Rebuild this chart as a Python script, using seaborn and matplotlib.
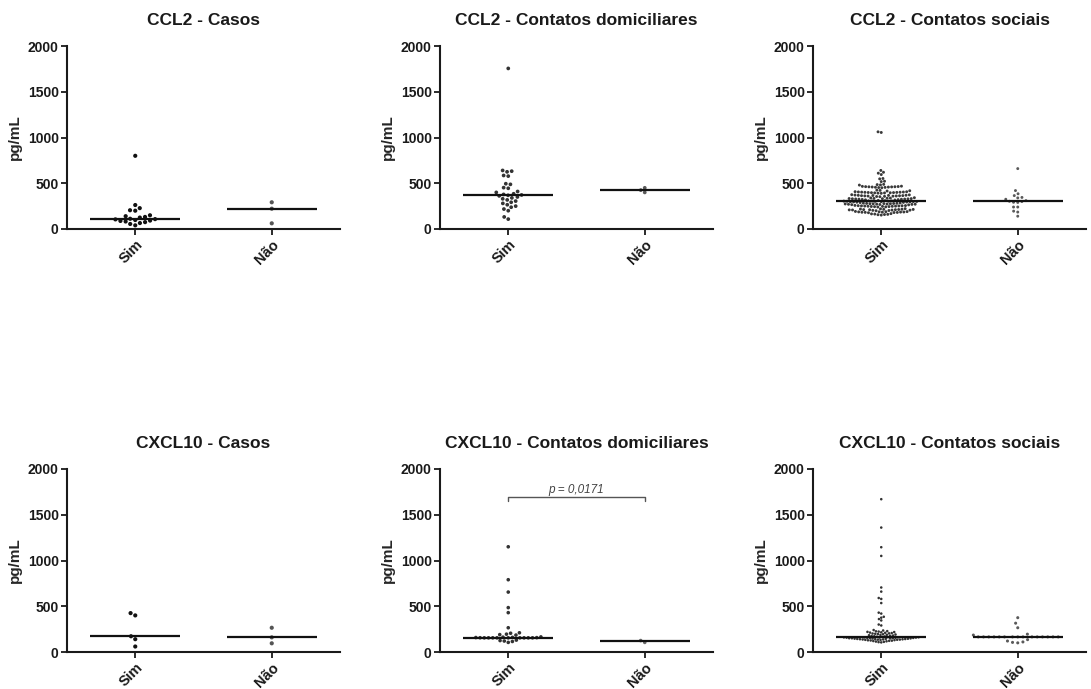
import matplotlib
matplotlib.use("Agg")
import matplotlib.pyplot as plt
import numpy as np
import pandas as pd
import seaborn as sns

# ---------------- data ----------------
groups = ["Sim", "Não"]
yticks = [0, 500, 1000, 1500, 2000]
titles = ["CCL2 - Casos", "CCL2 - Contatos domiciliares", "CCL2 - Contatos sociais",
          "CXCL10 - Casos", "CXCL10 - Contatos domiciliares", "CXCL10 - Contatos sociais"]

ccl2_casos_sim = [800, 262, 228, 205, 200, 150, 140, 132, 125, 112, 108, 105, 98, 92, 88,
                  82, 75, 65, 55, 40]
ccl2_casos_nao = [292, 222, 62]

ccl2_dom_sim = [1755, 640, 632, 625, 585, 578, 495, 488, 452, 445, 410, 400, 385, 378, 372,
                368, 362, 350, 340, 330, 318, 305, 292, 280, 265, 250, 238, 218, 200, 132, 108]
ccl2_dom_nao = [450, 425, 400]

ccl2_soc_sim = [1062, 1055,
                640, 620, 610, 595,
                552, 548, 522, 518,
                488, 485, 482, 480,
                468, 466, 464, 463, 462, 461, 460, 459, 458, 456, 455, 453, 451,
                425, 422, 418, 415,
                408, 407, 405, 404, 403, 402, 401, 400, 399, 398, 397, 396, 395, 394, 392, 390,
                375, 373, 371, 369, 368, 367, 366, 365, 364, 363, 362, 361, 360, 359, 357, 355, 353,
                342, 340, 338, 336, 334, 333, 332, 331, 330, 329, 328, 327, 326, 325, 323, 321, 319, 317,
                312, 310, 308, 307, 306, 305, 304, 303, 302, 301, 300, 299, 298, 297, 296, 295, 293, 291, 289,
                285, 283, 281, 280, 279, 278, 277, 276, 275, 274, 273, 272, 271, 270, 269, 268, 266, 264,
                258, 256, 255, 254, 253, 252, 251, 250, 249, 248, 247, 246, 245, 244, 242, 240,
                222, 220, 218, 216, 215, 214, 213, 212, 211, 210, 209, 208, 207, 206, 204, 202, 200,
                192, 190, 189, 188, 187, 186, 185, 184, 183, 182, 181, 180, 178,
                168, 165, 163, 160, 158, 156, 152]
ccl2_soc_nao = [660, 420, 385, 365, 345, 340, 325, 310, 303, 300, 292, 290, 240, 240, 195,
                185, 140]

cxcl10_casos_sim = [425, 400, 172, 140, 60]
cxcl10_casos_nao = [265, 160, 95]

cxcl10_dom_sim = [1150, 790, 655, 485, 430, 265,
                  210, 205, 195, 190, 185,
                  165, 162, 160, 158, 157, 156, 155, 155, 155, 155, 155, 155, 155, 155, 155,
                  130, 125, 120, 115, 105]
cxcl10_dom_nao = [125, 105]

cxcl10_soc_sim = [1670, 1360, 1145, 1050, 705, 660, 590, 580, 535, 430, 420, 385, 375, 360,
                  345, 300, 290, 240, 235, 228,
                  164, 167, 170, 172, 175, 178, 180, 183, 186, 188, 191, 194, 196, 199, 202,
                  204, 207, 210, 212, 215, 218, 220, 223, 226,
                  105, 108, 111, 114, 117, 120, 122, 124, 126, 128, 130, 132, 133, 134, 135,
                  136, 137, 138, 139, 140, 141, 142, 143, 144, 145, 146, 147, 148, 149, 150,
                  151, 152, 153, 154, 155, 156, 157, 158, 158, 159, 160, 160, 161, 162]
cxcl10_soc_nao = [375, 315, 265, 195, 185,
                  165, 165, 165, 165, 165, 165, 165, 165, 165, 165, 165, 165, 165, 165, 165,
                  135, 120, 110, 105, 100]

p_text = "p = 0,0171"

panels = [
    (ccl2_casos_sim, ccl2_casos_nao),
    (ccl2_dom_sim, ccl2_dom_nao),
    (ccl2_soc_sim, ccl2_soc_nao),
    (cxcl10_casos_sim, cxcl10_casos_nao),
    (cxcl10_dom_sim, cxcl10_dom_nao),
    (cxcl10_soc_sim, cxcl10_soc_nao),
]

# ---------------- style ----------------
sns.set_theme(style="ticks")
plt.rcParams["font.family"] = ["Liberation Sans", "DejaVu Sans"]
plt.rcParams["axes.linewidth"] = 1.5
plt.rcParams["axes.edgecolor"] = "#1a1a1a"
plt.rcParams["text.color"] = "#1a1a1a"
plt.rcParams["xtick.color"] = "#1a1a1a"
plt.rcParams["ytick.color"] = "#1a1a1a"

sim_sizes = [3.0, 2.7, 2.1, 3.0, 2.6, 1.85]
nao_sizes = [3.0, 2.7, 2.1, 3.0, 2.6, 2.2]
gaps_sim = [0.6, 0.5, 0.15, 0.6, 0.3, 0.0]
gaps_nao = [0.6, 0.5, 0.8, 0.6, 0.5, 1.4]
sim_colors = ["#111111", "#333333", "#3a3a3a", "#111111", "#333333", "#333333"]
nao_colors = ["#555555", "#5a5a5a", "#5a5a5a", "#555555", "#6a6a6a", "#5a5a5a"]

fig = plt.figure(figsize=(10.91, 6.89), dpi=100)
W, H = 1091, 689
lefts = [67, 440, 813]
tops = [46, 469]
bots = [229, 652]
axw = 273

for k, (sim, nao) in enumerate(panels):
    r, c = divmod(k, 3)
    ax = fig.add_axes([lefts[c] / W, (H - bots[r]) / H, axw / W, (bots[r] - tops[r]) / H])
    df = pd.DataFrame({"grupo": ["Sim"] * len(sim) + ["Não"] * len(nao),
                       "valor": list(sim) + list(nao)})
    for g, col, sz, gap in [("Sim", sim_colors[k], sim_sizes[k], gaps_sim[k]),
                            ("Não", nao_colors[k], nao_sizes[k], gaps_nao[k])]:
        sns.swarmplot(data=df[df["grupo"] == g], x="grupo", y="valor", order=groups,
                      color=col, size=sz, linewidth=gap, edgecolor="none",
                      ax=ax, zorder=3, warn_thresh=1.0)
    # median lines
    sns.boxplot(data=df, x="grupo", y="valor", order=groups, width=0.66,
                showbox=False, showcaps=False, showfliers=False, whis=0,
                whiskerprops=dict(visible=False),
                medianprops=dict(color="#111111", linewidth=1.6, zorder=4),
                ax=ax)
    ax.set_xlim(-0.5, 1.5)
    ax.set_ylim(0, 2000)
    ax.set_yticks(yticks)
    ax.set_yticklabels([str(v) for v in yticks], fontweight="bold", fontsize=10)
    ax.set_xticks([0, 1])
    ax.set_xticklabels(groups, rotation=45, ha="right", rotation_mode="anchor",
                       fontweight="bold", fontsize=10.5)
    ax.tick_params(axis="both", width=1.3, length=4, pad=2)
    ax.set_xlabel("")
    ax.set_ylabel("pg/mL", fontweight="bold", fontsize=11, labelpad=4)
    ax.set_title(titles[k], fontweight="bold", fontsize=12.5, pad=15)
    sns.despine(ax=ax)

    if k == 4:
        ax.plot([0, 0, 1, 1], [1650, 1690, 1690, 1650], color="#555555", lw=1.0, zorder=2)
        ax.text(0.5, 1705, p_text, ha="center", va="bottom", fontsize=8.5,
                style="italic", color="#444444")

fig.savefig("out.png", dpi=100)
